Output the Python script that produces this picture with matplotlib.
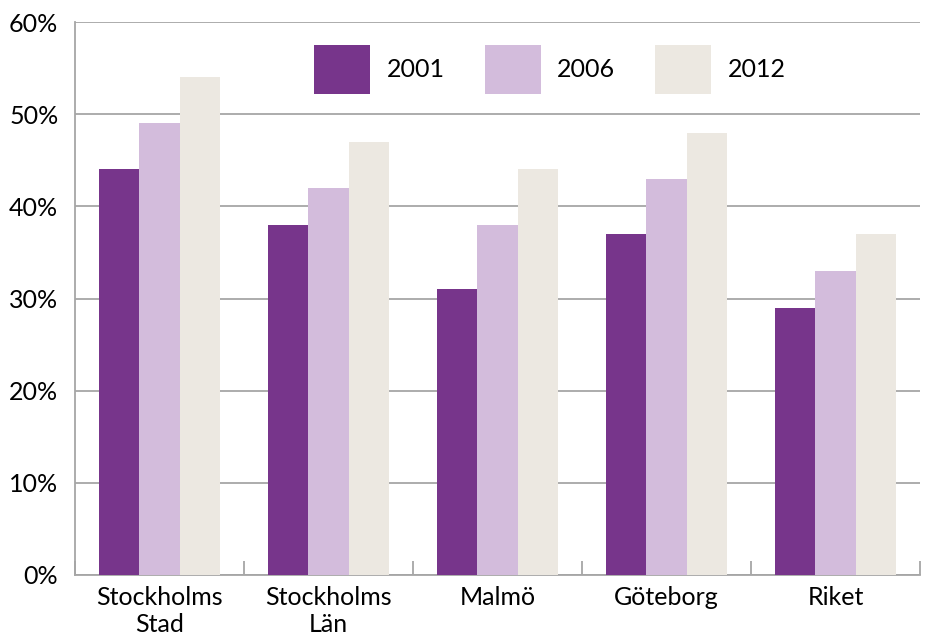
import matplotlib
matplotlib.use('Agg')
import matplotlib.pyplot as plt
import numpy as np

plt.rcParams['font.family'] = ['Lato', 'DejaVu Sans']

# data
categories = ['Stockholms\nStad', 'Stockholms\nLän', 'Malmö', 'Göteborg', 'Riket']
years = ['2001', '2006', '2012']
v2001 = [44, 38, 31, 37, 29]
v2006 = [49, 42, 38, 43, 33]
v2012 = [54, 47, 44, 48, 37]
yticks = [0, 10, 20, 30, 40, 50, 60]

colors = ['#77358B', '#D3BCDC', '#ECE8E1']
grid_c = '#A6A6A6'

fig = plt.figure(figsize=(9.25, 6.37), dpi=100)
ax = fig.add_axes([75/925, 62/637, 845/925, 553/637])

x = np.arange(len(categories))
w = 0.24
for i, vals in enumerate([v2001, v2006, v2012]):
    ax.bar(x + (i - 1) * w, vals, width=w, color=colors[i], label=years[i], zorder=3)

ax.set_ylim(0, 60)
ax.set_xlim(-0.5, len(categories) - 0.5)
ax.set_yticks(yticks)
ax.set_yticklabels([f'{t}%' for t in yticks])
ax.yaxis.grid(True, color=grid_c, linewidth=1.3, zorder=0)
ax.tick_params(axis='y', length=0, pad=12, labelsize=18)

ax.set_xticks(x)
ax.set_xticklabels(categories, linespacing=1.2)
ax.set_xticks(np.arange(-0.5, len(categories)), minor=True)
ax.tick_params(axis='x', which='major', length=0, pad=8, labelsize=18)
ax.tick_params(axis='x', which='minor', direction='in', length=10, width=1.3, color=grid_c)

for s in ['top', 'right']:
    ax.spines[s].set_visible(False)
for s in ['left', 'bottom']:
    ax.spines[s].set_color(grid_c)
    ax.spines[s].set_linewidth(1.3)

leg = ax.legend(loc='center', bbox_to_anchor=(0.562, 0.914), ncol=3, frameon=False,
                fontsize=18, handlelength=2.25, handleheight=2.64,
                handletextpad=0.65, columnspacing=1.6)

fig.savefig('out.png', dpi=100)
